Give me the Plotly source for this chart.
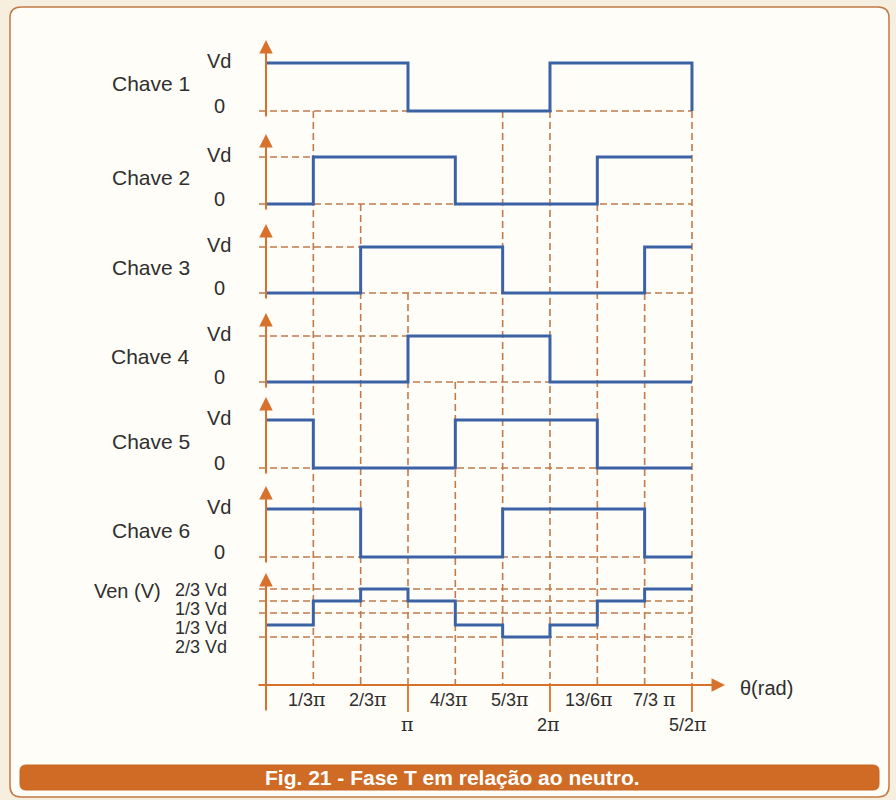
import plotly.graph_objects as go

# ---------------- data ----------------
breakpoints = [0, 1, 2, 3, 4, 5, 6, 7, 8, 9]          # step boundaries (units of the 9 equal intervals)
chave1 = [1, 1, 1, 0, 0, 0, 1, 1, 1, 0]
chave2 = [0, 1, 1, 1, 0, 0, 0, 1, 1, 1]
chave3 = [0, 0, 1, 1, 1, 0, 0, 0, 1, 1]
chave4 = [0, 0, 0, 1, 1, 1, 0, 0, 0, 0]
chave5 = [1, 0, 0, 0, 1, 1, 1, 0, 0, 0]
chave6 = [1, 1, 0, 0, 0, 1, 1, 1, 0, 0]
ven = [-1/3, 1/3, 2/3, 1/3, -1/3, -2/3, -1/3, 1/3, 2/3, 2/3]
ven_guides = [2/3, 1/3, 0, -2/3]
panel_names = ["Chave 1", "Chave 2", "Chave 3", "Chave 4", "Chave 5", "Chave 6"]
ven_tick_text = ["2/3 Vd", "1/3 Vd", "1/3 Vd", "2/3 Vd"]
tick_pos = [1, 2, 3, 4, 5, 6, 7, 8, 9]
tick_labels = ["1/3π", "2/3π", "π", "4/3π", "5/3π", "2π", "13/6π", "7/3 π", "5/2π"]
tick_lower_row = [False, False, True, False, False, True, False, False, True]
guide_start_panel = [1, 2, 3, 4, 1, 1, 2, 3, 1]   # panel whose 0-line each vertical guide starts from

# ---------------- styles / geometry ----------------
W, H = 896, 800
BLUE = "#3c62a6"
ORANGE = "#d8712c"
DASH = "#c27a4c"
TEXT = "#2f2f2f"
FONT = "Liberation Sans"
X0_PX, UX = 266.0, 47.33
X_DOM = (250.0, 745.0)
Z_PX = [111, 204, 293, 382, 468, 557]
V_PX = [63, 157, 247, 336, 420, 509]
VEN_Z, VEN_U = 613.0, 36.0
VEN_DOM = (568.0, 728.0)
AXIS_Y_VAL = -2.0          # x-axis level in Ven units
AXIS_BOTTOM = -2.75


def pp(py):
    return 1 - py / H


def px(x):
    return x / W


def xval(xpx):
    return (xpx - X0_PX) / UX


fig = go.Figure()
layout = dict(
    width=W, height=H, margin=dict(l=0, r=0, t=0, b=0),
    paper_bgcolor="#f6efdf", plot_bgcolor="rgba(0,0,0,0)",
    showlegend=False,
    xaxis=dict(domain=[px(X_DOM[0]), px(X_DOM[1])],
               range=[xval(X_DOM[0]), xval(X_DOM[1])],
               visible=False, fixedrange=True, anchor="y7"),
)

series = [chave1, chave2, chave3, chave4, chave5, chave6]
panels = []   # (zero px, unit px, top px, bottom px)
for k in range(6):
    z, v = Z_PX[k], V_PX[k]
    u = z - v
    panels.append((z, u, v - 28, z + 10))
panels.append((VEN_Z, VEN_U, VEN_DOM[0], VEN_DOM[1]))

for k, (z, u, top, bot) in enumerate(panels):
    name = "yaxis" if k == 0 else f"yaxis{k+1}"
    layout[name] = dict(domain=[pp(bot), pp(top)],
                        range=[(z - bot) / u, (z - top) / u],
                        visible=False, fixedrange=True, anchor="x")


def yref(k):
    return "y" if k == 0 else f"y{k+1}"


shapes = []
annotations = []


def rrect(x0, y0, x1, y1, r):
    rx, ry = r / W, r / H
    X0, X1, Y0, Y1 = px(x0), px(x1), pp(y0), pp(y1)
    return (f"M{X0+rx},{Y0} L{X1-rx},{Y0} Q{X1},{Y0} {X1},{Y0-ry} "
            f"L{X1},{Y1+ry} Q{X1},{Y1} {X1-rx},{Y1} L{X0+rx},{Y1} "
            f"Q{X0},{Y1} {X0},{Y1+ry} L{X0},{Y0-ry} Q{X0},{Y0} {X0+rx},{Y0} Z")


shapes.append(dict(type="path", xref="paper", yref="paper", layer="below",
                   path=rrect(10, 7, 889, 797, 11),
                   fillcolor="#fffdf8", line=dict(color="#c47a45", width=1.5)))
shapes.append(dict(type="path", xref="paper", yref="paper", layer="below",
                   path=rrect(20, 765, 879, 790, 6),
                   fillcolor="#cf6b24", line=dict(color="#c8661f", width=1)))

dash_line = dict(color=DASH, width=1.6, dash="7px,4px")
x_left = xval(259)

# vertical guides
for i, p in enumerate(tick_pos):
    k = guide_start_panel[i] - 1
    shapes.append(dict(type="line", xref="x", yref="paper", layer="below",
                       x0=p, x1=p, y0=pp(Z_PX[k]), y1=pp(VEN_Z - AXIS_Y_VAL * VEN_U),
                       line=dash_line))

ARROW = dict(showarrow=True, arrowhead=2, arrowsize=1.35, arrowwidth=2, arrowcolor=ORANGE, text="")

# panel guides, traces, axes, labels
for k, s in enumerate(series):
    yr = yref(k)
    shapes.append(dict(type="line", xref="x", yref=yr, layer="below",
                       x0=x_left, x1=breakpoints[-1], y0=0, y1=0, line=dash_line))
    if s[0] == 0:
        first_rise = next(breakpoints[i] for i, val in enumerate(s) if val == 1)
        shapes.append(dict(type="line", xref="x", yref=yr, layer="below",
                           x0=x_left, x1=first_rise, y0=1, y1=1, line=dash_line))
    fig.add_trace(go.Scatter(x=breakpoints, y=s, mode="lines", xaxis="x", yaxis=yr,
                             line=dict(shape="hv", color=BLUE, width=3),
                             hoverinfo="skip"))
    z, u, top, bot = panels[k]
    annotations.append(dict(x=0, y=1 + 23 / u, ax=0, ay=-7 / u, xref="x", yref=yr,
                            axref="x", ayref=yr, **ARROW))
    annotations.append(dict(x=px(192), y=pp((Z_PX[k] + V_PX[k]) / 2 - 3), xref="paper",
                            yref="paper", xanchor="right", yanchor="middle",
                            text=panel_names[k], showarrow=False,
                            font=dict(family=FONT, size=21, color=TEXT)))
    annotations.append(dict(x=px(219), y=1, yshift=2, xref="paper", yref=yr,
                            xanchor="center", yanchor="middle", text="Vd", showarrow=False,
                            font=dict(family=FONT, size=20, color=TEXT)))
    annotations.append(dict(x=px(219), y=0, yshift=5, xref="paper", yref=yr,
                            xanchor="center", yanchor="middle", text="0", showarrow=False,
                            font=dict(family=FONT, size=20, color=TEXT)))

# Ven panel
yv = "y7"
for lvl in ven_guides:
    shapes.append(dict(type="line", xref="x", yref=yv, layer="below",
                       x0=x_left, x1=breakpoints[-1], y0=lvl, y1=lvl, line=dash_line))
fig.add_trace(go.Scatter(x=breakpoints, y=ven, mode="lines", xaxis="x", yaxis=yv,
                         line=dict(shape="hv", color=BLUE, width=3), hoverinfo="skip"))
annotations.append(dict(x=0, y=(VEN_Z - 573) / VEN_U, ax=0, ay=AXIS_BOTTOM, xref="x", yref=yv,
                        axref="x", ayref=yv, **ARROW))
annotations.append(dict(x=xval(725), y=AXIS_Y_VAL, ax=xval(257), ay=AXIS_Y_VAL, xref="x",
                        yref=yv, axref="x", ayref=yv, **ARROW))
annotations.append(dict(x=px(738), y=AXIS_Y_VAL, yshift=-3, xref="paper", yref=yv,
                        xanchor="left", yanchor="middle", text="θ(rad)", showarrow=False,
                        font=dict(family=FONT, size=20, color=TEXT)))
annotations.append(dict(x=px(163), y=pp(591), xref="paper", yref="paper", xanchor="right",
                        yanchor="middle", text="Ven (V)", showarrow=False,
                        font=dict(family=FONT, size=20, color=TEXT)))
for t, ypix in zip(ven_tick_text, [590, 609, 628, 647]):
    annotations.append(dict(x=px(229), y=pp(ypix), xref="paper", yref="paper",
                            xanchor="right", yanchor="middle", text=t, showarrow=False,
                            font=dict(family=FONT, size=18, color=TEXT)))

label_xshift = [-6, 7, 0, -6, 7, -1, -8, 10, -4]
PI = "<span style='font-family:DejaVu Serif;font-size:19px'>π</span>"
for p, lab, low, xs in zip(tick_pos, tick_labels, tick_lower_row, label_xshift):
    if low:
        shapes.append(dict(type="line", xref="x", yref=yv, x0=p, x1=p,
                           y0=AXIS_Y_VAL, y1=AXIS_BOTTOM, line=dict(color=ORANGE, width=1.8)))
    txt = lab.replace("π", PI)
    ypix = 724 if low else 699
    annotations.append(dict(x=p, y=pp(ypix), xshift=xs, xref="x", yref="paper",
                            xanchor="center", yanchor="middle", text=txt, showarrow=False,
                            font=dict(family=FONT, size=18, color=TEXT)))

# caption
annotations.append(dict(x=px(452), y=pp(777.5), xref="paper", yref="paper",
                        xanchor="center", yanchor="middle",
                        text="<b>Fig. 21 - Fase T em relação ao neutro.</b>", showarrow=False,
                        font=dict(family=FONT, size=21, color="#ffffff")))

layout["shapes"] = shapes
layout["annotations"] = annotations
fig.update_layout(**layout)
fig.write_html("out.html", config={"displayModeBar": False, "staticPlot": True},
               post_script="document.body.style.margin='0px';document.body.style.background='#f6efdf';")
